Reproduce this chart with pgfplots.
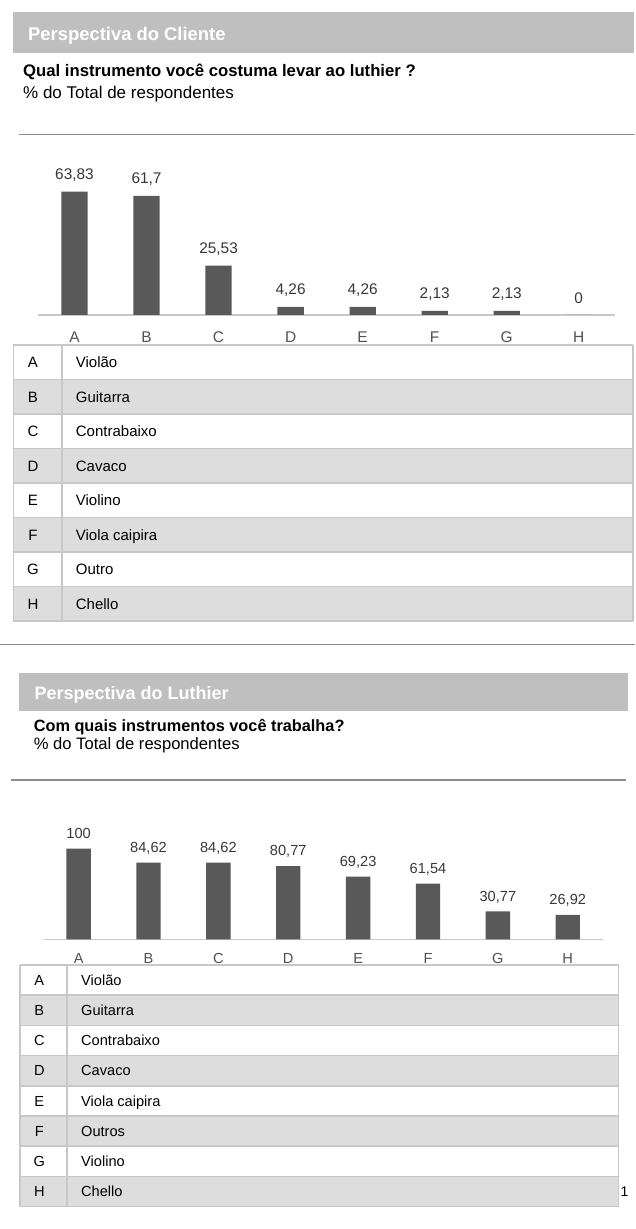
\documentclass[border=0pt]{standalone}
\usepackage{pgfplots}
\pgfplotsset{compat=1.18}
\usepackage{fontspec}
\setmainfont{Liberation Sans}
\definecolor{hdr}{RGB}{191,191,191}
\definecolor{barc}{RGB}{89,89,89}
\definecolor{rowg}{RGB}{221,221,221}
\definecolor{brd}{RGB}{200,200,200}
\definecolor{sep}{RGB}{140,140,140}
\definecolor{tickc}{RGB}{80,80,80}
\definecolor{vlab}{RGB}{55,55,55}
\newcommand\fs[1]{\fontsize{#1}{#1}\selectfont}
\begin{document}
\begin{tikzpicture}[x=1pt,y=1pt]
\useasboundingbox (0,0) rectangle (635,1229);
% ---------- section 1 ----------
\fill[hdr] (13.4,1175.7) rectangle (634,1216.7);
\node[anchor=base west,inner sep=0,text=white,font=\fs{18.4}\bfseries] at (28,1188.3) {Perspectiva do Cliente};
\node[anchor=base west,inner sep=0,font=\fs{16.7}\bfseries] at (23,1152) {Qual instrumento você costuma levar ao luthier ?};
\node[anchor=base west,inner sep=0,font=\fs{17}] at (23,1130) {\% do Total de respondentes};
\draw[sep,line width=1.5] (19,1094.7) -- (635,1094.7);
\begin{scope}[shift={(38.5pt,914pt)}]
\begin{axis}[at={(0pt,0pt)},anchor=south west,scale only axis,width=576.3pt,height=135.24pt,
 xmin=-0.5,xmax=7.5,ymin=0,ymax=70,axis x line*=bottom,axis y line=none,
 xtick={0,...,7},xticklabels={A,B,C,D,E,F,G,H},major tick length=0pt,
 x axis line style={brd,line width=1.5pt},
 xticklabel style={font=\fs{15.5},text=tickc,anchor=base,inner sep=0pt,yshift=-27.2pt},
 ybar,bar width=26.3pt,clip=false,
 nodes near coords,
 nodes near coords style={font=\fs{15.4},text=vlab,anchor=base,inner sep=0pt,yshift=11.9pt},
 /pgf/number format/.cd,use comma,assume math mode=true]
\addplot[fill=barc,draw=none] coordinates {(0,63.83) (1,61.7) (2,25.53) (3,4.26) (4,4.26) (5,2.13) (6,2.13) (7,0)};
\end{axis}
\end{scope}
\foreach \i/\l/\n in {0/A/Violão,1/B/Guitarra,2/C/Contrabaixo,3/D/Cavaco,4/E/Violino,5/F/Viola caipira,6/G/Outro,7/H/Chello}{
  \pgfmathsetmacro\yt{884-34.5*\i}
  \pgfmathsetmacro\yb{\yt-34.5}
  \pgfmathsetmacro\yc{\yt-17.25-5.4}
  \ifodd\i \fill[rowg] (13.4,\yb) rectangle (633,\yt); \fi
  \node[anchor=base,inner sep=0,font=\fs{15}] at (33,\yc) {\l};
  \node[anchor=base west,inner sep=0,font=\fs{15}] at (75.7,\yc) {\n};
}
\foreach \k in {0,...,8}{\draw[brd,line width=1.5] (13.4,{884-34.5*\k}) -- (633,{884-34.5*\k});}
\draw[brd,line width=1.5] (13.4,884) -- (13.4,608) (62,884) -- (62,608) (633,884) -- (633,608);
\draw[sep,line width=1.5] (0,584.3) -- (635,584.3);
% ---------- section 2 ----------
\fill[hdr] (19.4,518.3) rectangle (627.8,555.7);
\node[anchor=base west,inner sep=0,text=white,font=\fs{18}\bfseries] at (34.4,529.7) {Perspectiva do Luthier};
\node[anchor=base west,inner sep=0,font=\fs{16.3}\bfseries] at (33.6,497.3) {Com quais instrumentos você trabalha?};
\node[anchor=base west,inner sep=0,font=\fs{16.6}] at (33.6,479) {\% do Total de respondentes};
\draw[sep,line width=1.5] (11,449) -- (625.7,449);
\begin{scope}[shift={(43.7pt,289.7pt)}]
\begin{axis}[at={(0pt,0pt)},anchor=south west,scale only axis,width=559pt,height=99.66pt,
 xmin=-0.5,xmax=7.5,ymin=0,ymax=110,axis x line*=bottom,axis y line=none,
 xtick={0,...,7},xticklabels={A,B,C,D,E,F,G,H},major tick length=0pt,
 x axis line style={brd,line width=1.5pt},
 xticklabel style={font=\fs{14.6},text=tickc,anchor=base,inner sep=0pt,yshift=-24.2pt},
 ybar,bar width=24.3pt,clip=false,
 nodes near coords,
 nodes near coords style={font=\fs{14.6},text=vlab,anchor=base,inner sep=0pt,yshift=10.2pt},
 /pgf/number format/.cd,use comma,assume math mode=true]
\addplot[fill=barc,draw=none] coordinates {(0,100) (1,84.62) (2,84.62) (3,80.77) (4,69.23) (5,61.54) (6,30.77) (7,26.92)};
\end{axis}
\end{scope}
\foreach \i/\l/\n in {0/A/Violão,1/B/Guitarra,2/C/Contrabaixo,3/D/Cavaco,4/E/Viola caipira,5/F/Outros,6/G/Violino,7/H/Chello}{
  \pgfmathsetmacro\yt{264-30.2*\i}
  \pgfmathsetmacro\yb{\yt-30.2}
  \pgfmathsetmacro\yc{\yt-15.1-5.2}
  \ifodd\i \fill[rowg] (20.2,\yb) rectangle (618.5,\yt); \fi
  \node[anchor=base,inner sep=0,font=\fs{14.6}] at (39.3,\yc) {\l};
  \node[anchor=base west,inner sep=0,font=\fs{14.6}] at (81,\yc) {\n};
}
\foreach \k in {0,...,8}{\draw[brd,line width=1.5] (20.2,{264-30.2*\k}) -- (618.5,{264-30.2*\k});}
\draw[brd,line width=1.5] (20.2,264) -- (20.2,22.4) (66.8,264) -- (66.8,22.4) (618.5,264) -- (618.5,22.4);
\node[anchor=base,inner sep=0,font=\fs{14}] at (624.5,32.3) {1};
\end{tikzpicture}
\end{document}
